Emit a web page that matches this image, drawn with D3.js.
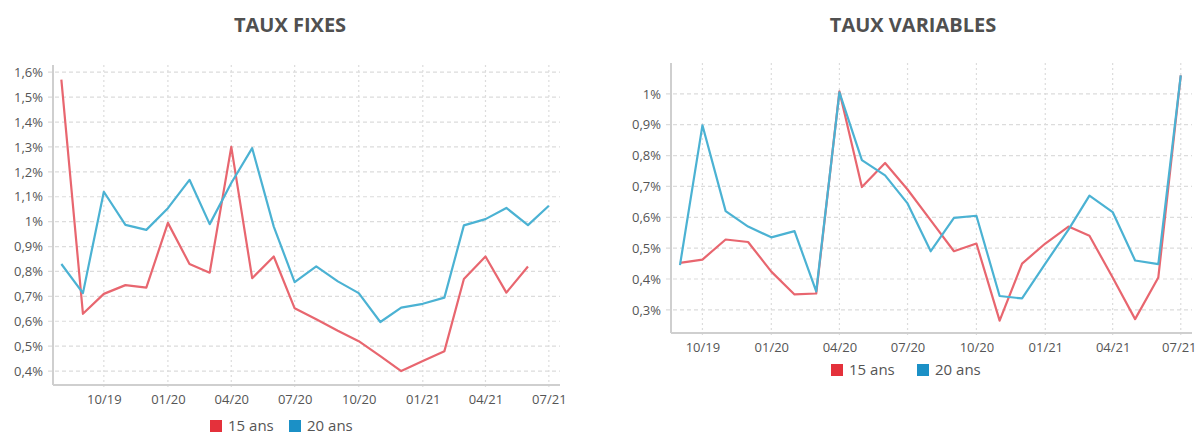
<!DOCTYPE html>
<html><head><meta charset="utf-8">
<script src="https://cdn.jsdelivr.net/npm/d3@7"></script>
<style>
body{margin:0;background:#fff;}
svg{display:block;font-family:"Open Sans",sans-serif;}
</style></head>
<body><svg id="c" width="1196" height="437"></svg>
<script>
// Months (first of month)
const fixedMonths = ["2019-08","2019-09","2019-10","2019-11","2019-12","2020-01","2020-02","2020-03","2020-04","2020-05","2020-06","2020-07","2020-08","2020-09","2020-10","2020-11","2020-12","2021-01","2021-02","2021-03","2021-04","2021-05","2021-06","2021-07"];
const fixed15 = [1.57,0.63,0.71,0.745,0.735,0.995,0.83,0.795,1.30,0.773,0.86,0.652,0.608,0.562,0.52,0.46,0.40,0.44,0.48,0.77,0.86,0.715,0.82,null];
const fixed20 = [0.83,0.713,1.12,0.987,0.967,1.054,1.168,0.99,1.155,1.295,0.98,0.757,0.82,0.76,0.713,0.597,0.655,0.67,0.695,0.985,1.01,1.055,0.986,1.064];

const varMonths = ["2019-09","2019-10","2019-11","2019-12","2020-01","2020-02","2020-03","2020-04","2020-05","2020-06","2020-07","2020-08","2020-09","2020-10","2020-11","2020-12","2021-01","2021-02","2021-03","2021-04","2021-05","2021-06","2021-07"];
const var15 = [0.452,0.463,0.528,0.52,0.424,0.35,0.353,1.008,0.698,0.776,0.69,0.59,0.49,0.515,0.265,0.45,0.515,0.57,0.54,0.405,0.27,0.405,1.06];
const var20 = [0.445,0.898,0.62,0.57,0.535,0.555,0.36,1.005,0.785,0.736,0.645,0.49,0.598,0.605,0.345,0.337,0.45,0.56,0.67,0.617,0.46,0.448,1.06];

const xTickLabels = ["10/19","01/20","04/20","07/20","10/20","01/21","04/21","07/21"];
const xTickMonths = ["2019-10","2020-01","2020-04","2020-07","2020-10","2021-01","2021-04","2021-07"];
const fixedYTicks = [0.4,0.5,0.6,0.7,0.8,0.9,1.0,1.1,1.2,1.3,1.4,1.5,1.6];
const varYTicks = [0.3,0.4,0.5,0.6,0.7,0.8,0.9,1.0];
const seriesNames = ["15 ans","20 ans"];
const lineColors = ["#e8666f","#4bb2d3"];
const legendColors = ["#e4313b","#1b90c6"];

const parse = d3.timeParse("%Y-%m");
const fmt = v => d3.format(".1f")(v).replace(/\.0$/,"").replace(".",",") + "%";
const svg = d3.select("#c");

function chart(cfg){
  const g = svg.append("g");
  const x = d3.scaleTime().domain(cfg.xDomain).range([cfg.left, cfg.right]);
  const y = d3.scaleLinear().domain(cfg.yDomain).range([cfg.bottom, cfg.top]);
  const xt = xTickMonths.map(parse);

  // horizontal grid
  g.append("g").selectAll("line").data(cfg.yTicks).join("line")
    .attr("x1", cfg.left-5).attr("x2", cfg.right)
    .attr("y1", d=>y(d)).attr("y2", d=>y(d))
    .attr("stroke","#dcdcdc").attr("stroke-width",1.2).attr("stroke-dasharray","4,3");
  // vertical grid
  g.append("g").selectAll("line").data(xt).join("line")
    .attr("x1", d=>x(d)).attr("x2", d=>x(d))
    .attr("y1", cfg.top).attr("y2", cfg.bottom+5)
    .attr("stroke","#dcdcdc").attr("stroke-width",1.2).attr("stroke-dasharray","2,3");

  // axes
  const yAxis = d3.axisLeft(y).tickValues(cfg.yTicks).tickFormat(fmt).tickSize(0).tickPadding(10);
  const ya = g.append("g").attr("transform",`translate(${cfg.left},0)`).call(yAxis);
  ya.select(".domain").remove();
  ya.selectAll("text").attr("fill","#555").style("font-size","13px").style("font-family","'Open Sans',sans-serif");
  const xAxis = d3.axisBottom(x).tickValues(xt).tickFormat((d,i)=>xTickLabels[i]).tickSize(0).tickPadding(10);
  const xa = g.append("g").attr("transform",`translate(0,${cfg.bottom})`).call(xAxis);
  xa.select(".domain").remove();
  xa.selectAll("text").attr("fill","#555").style("font-size","13px").style("font-family","'Open Sans',sans-serif")
    .attr("dx",(d,i)=> i===xTickLabels.length-1 ? cfg.lastDx : 0);

  g.append("line").attr("x1",cfg.left).attr("x2",cfg.left).attr("y1",cfg.top).attr("y2",cfg.bottom)
    .attr("stroke","#cfcfcf").attr("stroke-width",2);
  g.append("line").attr("x1",cfg.left).attr("x2",cfg.right).attr("y1",cfg.bottom).attr("y2",cfg.bottom)
    .attr("stroke","#cfcfcf").attr("stroke-width",2);

  // lines
  const months = cfg.months.map(parse);
  [cfg.s15, cfg.s20].forEach((s,i)=>{
    const line = d3.line().defined((d)=>d!=null).x((d,j)=>x(months[j])).y(d=>y(d));
    g.append("path").datum(s).attr("d", line).attr("fill","none")
      .attr("stroke", lineColors[i]).attr("stroke-width",2.2).attr("stroke-linejoin","round");
  });

  // title
  g.append("text").attr("x",cfg.titleX).attr("y",32).attr("text-anchor","middle")
    .attr("fill","#505050").style("font-size","20px").style("font-weight","bold").text(cfg.title);

  // legend
  const lg = g.append("g").attr("transform",`translate(${cfg.legendX},${cfg.legendY})`);
  const offs = [0, cfg.legendGap];
  seriesNames.forEach((n,i)=>{
    lg.append("rect").attr("x",offs[i]).attr("y",-6).attr("width",12).attr("height",12).attr("fill",legendColors[i]);
    lg.append("text").attr("x",offs[i]+18).attr("y",5).attr("fill","#555").style("font-size","15px").text(n);
  });
}

chart({
  title:"TAUX FIXES", titleX:290,
  left:53, right:560, top:65, bottom:385,
  xDomain:[new Date(2019,6,20), new Date(2021,6,17)],
  yDomain:[0.344,1.629], yTicks:fixedYTicks,
  months:fixedMonths, s15:fixed15, s20:fixed20,
  legendX:210, legendY:426, legendGap:79, lastDx:0
});
chart({
  title:"TAUX VARIABLES", titleX:913,
  left:671, right:1192, top:63, bottom:333,
  xDomain:[new Date(2019,7,20), new Date(2021,6,16)],
  yDomain:[0.225,1.1], yTicks:varYTicks,
  months:varMonths, s15:var15, s20:var20,
  legendX:831, legendY:370, legendGap:86, lastDx:-2
});
</script></body></html>
